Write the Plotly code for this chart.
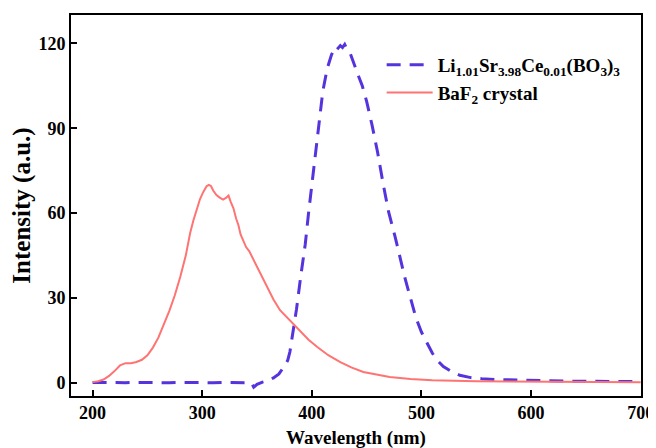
import plotly.graph_objects as go

# Li1.01Sr3.98Ce0.01(BO3)3 emission (blue dashed)
li_wavelength = [200, 210, 220, 230, 240, 250, 260, 270, 280, 290, 300, 310, 320, 330, 340, 345, 347, 350,
                 355, 360, 365, 370, 375, 378, 380, 382, 386, 390, 394, 397, 401, 404, 407, 410, 414, 418,
                 422, 424, 426, 428, 430, 432, 435, 438, 442, 446, 450, 455, 460, 465, 470, 476, 480, 485,
                 490, 495, 500, 505, 510, 515, 520, 528, 535, 545, 555, 570, 600, 640, 700]
li_intensity = [0.2, 0.1, 0.2, 0.1, 0.2, 0.1, 0.2, 0.1, 0.2, 0.1, 0.2, 0.1, 0.2, 0.1, 0.2, 0.0, -1.5, -0.5,
                0.3, 0.8, 1.8, 3.2, 6.0, 8.0, 11.0, 16.0, 26.0, 38.0, 49.0, 60.0, 73.0, 84.0, 93.0, 103.0, 111.0, 116.0,
                119.0, 118.3, 119.2, 118.5, 119.6, 118.0, 116.5, 113.0, 109.0, 105.0, 99.5, 91.0, 81.5, 70.5, 60.5, 51.6, 45.0, 37.0,
                30.0, 23.0, 18.0, 14.0, 10.5, 7.8, 5.8, 3.9, 2.7, 1.9, 1.5, 1.2, 0.9, 0.6, 0.5]

# BaF2 crystal emission (red solid)
baf_wavelength = [200, 205, 210, 215, 220, 225, 230, 235, 240, 245, 250, 255, 260, 265, 270, 275, 280, 285,
                  289, 292, 295, 298, 301, 304, 306, 308, 310, 313, 316, 319, 322, 324, 326, 328.5, 331, 333,
                  335, 337.5, 340, 343, 347, 352, 359, 365, 371, 378, 384, 390, 397, 405, 415, 426, 436, 447,
                  460, 471, 490, 510, 550, 600, 650, 700]
baf_intensity = [0.3, 0.6, 1.2, 2.5, 4.2, 6.2, 7.0, 7.0, 7.4, 8.2, 9.8, 12.5, 16.0, 20.5, 25.5, 31.0, 37.5, 45.0,
                 53.0, 57.5, 61.5, 65.0, 67.5, 69.5, 70.0, 69.6, 68.0, 66.4, 65.5, 64.8, 65.5, 66.2, 64.0, 61.7, 58.0, 55.8,
                 52.5, 50.0, 48.0, 46.5, 43.4, 39.5, 34.0, 29.5, 25.7, 22.8, 20.5, 18.0, 15.3, 12.7, 9.8, 7.4, 5.5, 3.9,
                 2.8, 2.1, 1.4, 1.0, 0.6, 0.4, 0.3, 0.25]

x_ticks = [200, 300, 400, 500, 600, 700]
y_ticks = [0, 30, 60, 90, 120]

FONT = "Liberation Serif"

fig = go.Figure()
fig.add_trace(go.Scatter(
    x=li_wavelength, y=li_intensity, mode="lines",
    name="Li<sub>1.01</sub>Sr<sub>3.98</sub>Ce<sub>0.01</sub>(BO<sub>3</sub>)<sub>3</sub>",
    line=dict(color="#5533dd", width=3, dash="14px,9px"),
))
fig.add_trace(go.Scatter(
    x=baf_wavelength, y=baf_intensity, mode="lines",
    name="BaF<sub>2</sub> crystal",
    line=dict(color="#ff7373", width=2),
))

axis_common = dict(
    showline=True, linecolor="black", linewidth=1.6, mirror=True,
    ticks="inside", ticklen=6, tickwidth=1.5, tickcolor="black",
    showgrid=False, zeroline=False, automargin=False,
    tickfont=dict(family=FONT, size=18, color="black", weight="bold"),
)

# the page places the figure 8px in from the top-left corner; margins compensate
fig.update_layout(
    width=656, height=448,
    margin=dict(l=63, r=23, t=7, b=60),
    paper_bgcolor="white", plot_bgcolor="white",
    font=dict(family=FONT, color="black"),
    xaxis=dict(range=[180.3, 700.3], tickvals=x_ticks,
               title=dict(text="<b>Wavelength (nm)</b>", font=dict(family=FONT, size=19), standoff=8),
               **axis_common),
    yaxis=dict(range=[-4.6, 130], tickvals=y_ticks,
               title=dict(text="<b>Intensity (a.u.)</b>", font=dict(family=FONT, size=25), standoff=4),
               **axis_common),
    legend=dict(x=0.545, y=0.919, xanchor="left", yanchor="top",
                bgcolor="rgba(0,0,0,0)", borderwidth=0, itemwidth=46,
                font=dict(family=FONT, size=19, color="black", weight="bold")),
    showlegend=True,
)

fig.write_html("out.html")
